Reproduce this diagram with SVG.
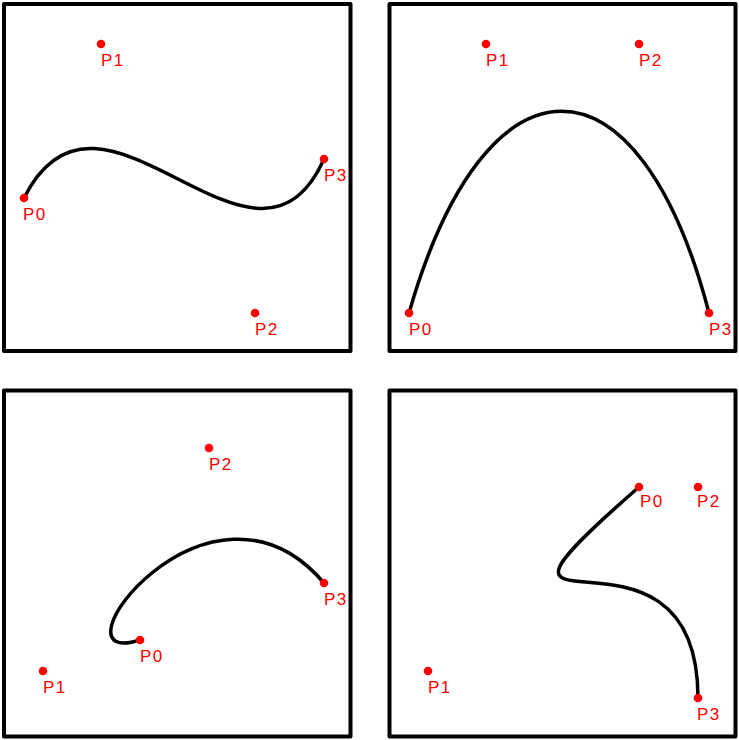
<svg xmlns="http://www.w3.org/2000/svg" width="739" height="740" viewBox="0 0 739 740">
<style>
.frame{fill:none;stroke:#000;stroke-width:4;stroke-linejoin:round}
.curve{fill:none;stroke:#000;stroke-width:3.5;stroke-linecap:round}
.pt{fill:#ff0000}
.lbl{font-family:"Liberation Sans",Arial,sans-serif;font-size:17px;fill:#ff0000;letter-spacing:1.5px}
</style>
<rect id="bg" x="0" y="0" width="739" height="740" fill="#fff"/>
<g id="panel1">
<rect class="frame" x="4" y="4" width="346.5" height="347"/>
<path class="curve" d="M24,198 C101,44 255,313 324,159"/>
<circle class="pt" cx="24" cy="198" r="4.3"/><text class="lbl" x="23" y="220">P0</text>
<circle class="pt" cx="101" cy="44" r="4.3"/><text class="lbl" x="101" y="66">P1</text>
<circle class="pt" cx="255" cy="313" r="4.3"/><text class="lbl" x="255" y="335">P2</text>
<circle class="pt" cx="324" cy="159" r="4.3"/><text class="lbl" x="324" y="181">P3</text>
</g>
<g id="panel2">
<rect class="frame" x="389.5" y="4" width="346" height="347"/>
<path class="curve" d="M409,313 C486,44 639,44 709,313"/>
<circle class="pt" cx="409" cy="313" r="4.3"/><text class="lbl" x="409" y="335">P0</text>
<circle class="pt" cx="486" cy="44" r="4.3"/><text class="lbl" x="486" y="66">P1</text>
<circle class="pt" cx="639" cy="44" r="4.3"/><text class="lbl" x="639" y="66">P2</text>
<circle class="pt" cx="709" cy="313" r="4.3"/><text class="lbl" x="709" y="335">P3</text>
</g>
<g id="panel3">
<rect class="frame" x="4" y="390.5" width="346.5" height="346"/>
<path class="curve" d="M140,640 C43,671 209,448 324,583"/>
<circle class="pt" cx="140" cy="640" r="4.3"/><text class="lbl" x="140" y="662">P0</text>
<circle class="pt" cx="43" cy="671" r="4.3"/><text class="lbl" x="43" y="693">P1</text>
<circle class="pt" cx="209" cy="448" r="4.3"/><text class="lbl" x="209" y="470">P2</text>
<circle class="pt" cx="324" cy="583" r="4.3"/><text class="lbl" x="324" y="605">P3</text>
</g>
<g id="panel4">
<rect class="frame" x="389.5" y="390.5" width="346" height="346"/>
<path class="curve" d="M639,487 C428,671 698,487 698,698"/>
<circle class="pt" cx="639" cy="487" r="4.3"/><text class="lbl" x="640" y="507">P0</text>
<circle class="pt" cx="428" cy="671" r="4.3"/><text class="lbl" x="428" y="693">P1</text>
<circle class="pt" cx="698" cy="487" r="4.3"/><text class="lbl" x="697" y="507">P2</text>
<circle class="pt" cx="698" cy="698" r="4.3"/><text class="lbl" x="697" y="720">P3</text>
</g>
<g id="connectors"></g>
</svg>
